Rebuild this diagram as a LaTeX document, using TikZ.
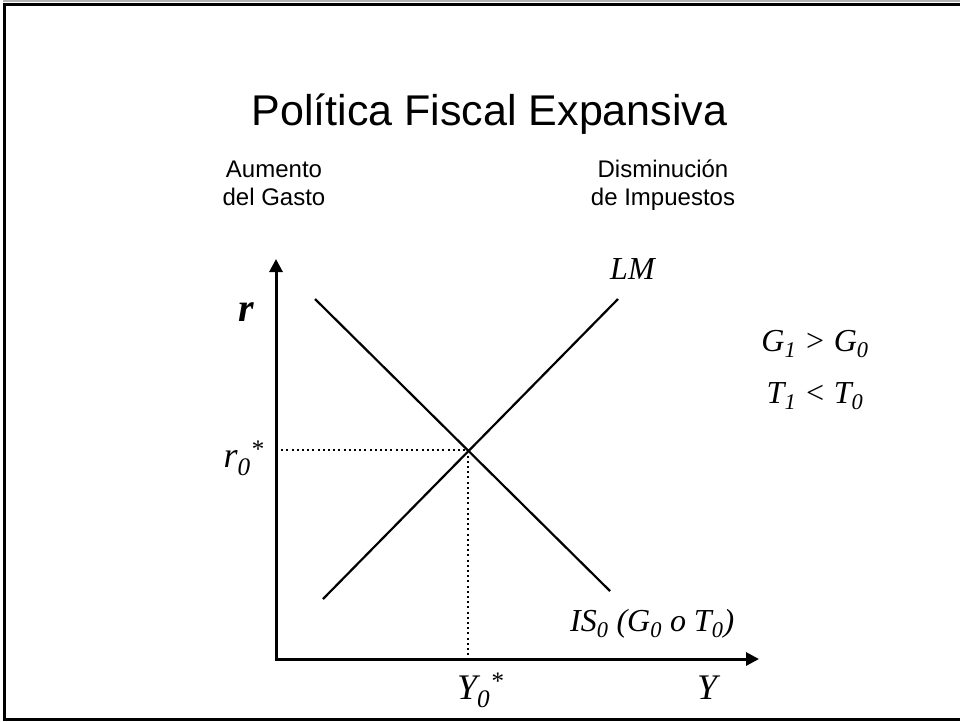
\documentclass[tikz,border=0pt]{standalone}
\usepackage{fontspec}
\setmainfont{Liberation Serif}
\newfontfamily\headfont{Liberation Sans}
\usetikzlibrary{arrows.meta,positioning,calc}

\begin{document}
\begin{tikzpicture}[x=1pt,y=-1pt,
  axis/.style={line width=3pt,{Triangle[length=13pt,width=13pt]}-{Triangle[length=13pt,width=13pt]}},
  curve/.style={line width=2.2pt},
  guide/.style={line width=2pt,dash pattern=on 2pt off 3.2pt},
  head/.style={font=\headfont\fontsize{24}{28}\selectfont,align=center,inner sep=0pt},
  lbl/.style={font=\itshape\fontsize{32}{32}\selectfont,inner sep=0pt},
  big/.style={font=\itshape\fontsize{36}{36}\selectfont,inner sep=0pt}
]
\useasboundingbox (0,0) rectangle (960,721);
% frame of the slide
\draw[gray!60,line width=1.5pt] (3,1.2) -- (960,1.2);
\draw[line width=3pt] (962,4.5) -- (4.5,4.5) -- (4.5,719.5) -- (962,719.5);

% titles
\node[font=\headfont\fontsize{43}{43}\selectfont,inner sep=0pt,anchor=base] (title) at (489.5,125) {Política Fiscal Expansiva};
\node[head,anchor=base] (gasto) at (274,205) {Aumento\\del Gasto};
\node[head,anchor=base] (impuestos) at (663,205) {Disminución\\de Impuestos};

% axes
\coordinate (O) at (276,659);
\coordinate (rtop) at (276,259);
\coordinate (yend) at (759,659);
\draw[axis] (rtop) -- (O) -- (yend);

% IS and LM
\coordinate (E) at (468,450);
\coordinate (IS1) at (315,299);
\coordinate (IS2) at (610,591);
\coordinate (LM1) at (323,599);
\coordinate (LM2) at (618,299);
\draw[curve] (IS1) -- (IS2);
\draw[curve] (LM1) -- (LM2);
\draw[guide] (O |- E) -- (E) -- (E |- O);

% labels
\node[font=\bfseries\itshape\fontsize{40}{40}\selectfont,inner sep=0pt,anchor=base] (r) at (246,321) {r};
\node[big,anchor=base east] (r0) at (264,467) {r\textsubscript{0}\textsuperscript{*}};
\node[big,anchor=base west] (y0) at (457,699) {Y\textsubscript{0}\textsuperscript{*}};
\node[big,anchor=base west] (y) at (697,699) {Y};
\node[lbl,anchor=base west] (lm) at (610,279) {LM};
\node[lbl,anchor=base west] (is) at (570,631) {IS\textsubscript{0} (G\textsubscript{0} o T\textsubscript{0})};
\node[lbl,anchor=base] (g) at (815,351) {G\textsubscript{1} > G\textsubscript{0}};
\node[lbl,anchor=base] (t) at (815,403) {T\textsubscript{1} < T\textsubscript{0}};
\end{tikzpicture}
\end{document}
